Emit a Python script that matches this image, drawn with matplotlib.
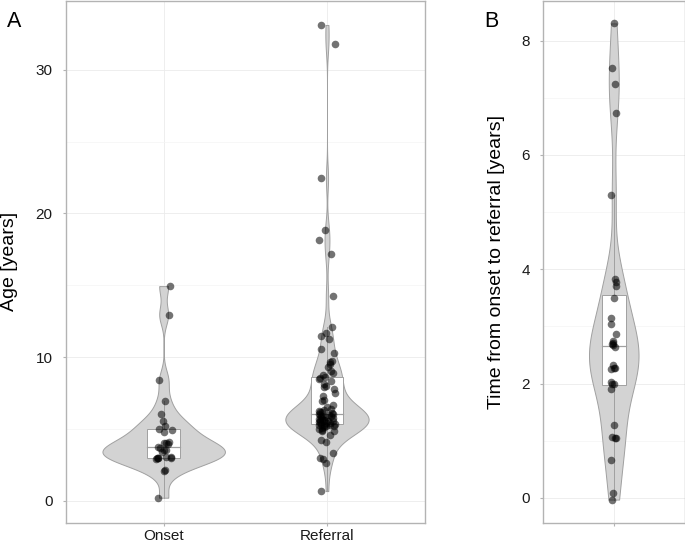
import numpy as np
import matplotlib.pyplot as plt
from matplotlib.patches import Rectangle
from matplotlib.ticker import MultipleLocator

plt.rcParams["font.family"] = ["Liberation Sans", "DejaVu Sans"]

# values (years)
group_names = ["Onset", "Referral"]
onset_age = [0.21, 2.05, 2.16, 2.92, 2.95, 2.95, 2.96, 2.96, 3.03, 3.05, 3.42, 3.5,
             3.54, 3.65, 3.73, 3.93, 4.0, 4.04, 4.11, 4.75, 4.95, 4.98, 5.21, 5.55,
             6.06, 6.93, 8.4, 12.94, 14.94]
referral_age = [0.67, 2.63, 2.87, 2.98, 3.33, 4.07, 4.25, 4.6, 4.83, 4.85, 4.95, 5.02,
                5.08, 5.12, 5.18, 5.22, 5.25, 5.28, 5.3, 5.32, 5.34,
                5.38, 5.42, 5.45, 5.5, 5.52, 5.55, 5.6, 5.62, 5.65, 5.7, 5.72, 5.75,
                5.8, 5.85, 5.88, 5.92, 5.96, 6.0, 6.04, 6.07,
                6.1, 6.15, 6.2, 6.25, 6.3, 6.38, 6.5, 6.68, 6.91, 7.03, 7.26, 7.5,
                7.77, 7.9, 8.0, 8.15, 8.3, 8.45, 8.53, 8.6,
                8.76, 8.88, 9.04, 9.34, 9.5, 9.69, 9.76, 10.31, 10.57, 11.26, 11.47,
                11.7, 12.12, 14.27, 17.15, 18.14, 18.88, 22.44, 31.78, 33.12]
time_to_referral = [-0.03, 0.08, 0.67, 1.04, 1.05, 1.06, 1.28, 1.9, 1.99, 2.0, 2.02,
                    2.26, 2.27, 2.28, 2.32, 2.64, 2.67, 2.7, 2.71, 2.75, 2.87, 3.05,
                    3.14, 3.5, 3.7, 3.77, 3.83, 5.3, 6.73, 7.24, 7.52, 8.3]

VIOLIN_FILL = "#d3d3d3"
EDGE = "#a0a0a0"
BORDER = "#b3b3b3"
GRID_MAJOR = "#ebebeb"
GRID_MINOR = "#f4f4f4"


def kde_nrd0(values, n_grid=512):
    v = np.asarray(values, dtype=float)
    n = len(v)
    q75, q25 = np.percentile(v, [75, 25])
    bw = 0.9 * min(v.std(ddof=1), (q75 - q25) / 1.34) * n ** -0.2
    grid = np.linspace(v.min(), v.max(), n_grid)
    z = (grid[:, None] - v[None, :]) / bw
    dens = np.exp(-0.5 * z ** 2).sum(axis=1) / (n * bw * np.sqrt(2 * np.pi))
    return grid, dens


def draw_group(ax, pos, values, max_half, jitter, rng):
    grid, dens = kde_nrd0(values)
    half = dens / dens.max() * max_half
    ax.fill_betweenx(grid, pos - half, pos + half, facecolor=VIOLIN_FILL,
                     edgecolor=EDGE, linewidth=0.7, zorder=2)

    v = np.asarray(values, dtype=float)
    q1, med, q3 = np.percentile(v, [25, 50, 75])
    iqr = q3 - q1
    lo = v[v >= q1 - 1.5 * iqr].min()
    hi = v[v <= q3 + 1.5 * iqr].max()
    ax.plot([pos, pos], [lo, q1], color=EDGE, lw=0.7, zorder=3)
    ax.plot([pos, pos], [q3, hi], color=EDGE, lw=0.7, zorder=3)
    bw = 0.2
    ax.add_patch(Rectangle((pos - bw / 2, q1), bw, q3 - q1, facecolor="white",
                           edgecolor=EDGE, linewidth=0.7, zorder=3))
    ax.plot([pos - bw / 2, pos + bw / 2], [med, med], color=EDGE, lw=0.9, zorder=3)

    xs = pos + rng.uniform(-jitter, jitter, len(v))
    ax.scatter(xs, v, s=30, color="black", alpha=0.55, linewidths=0, zorder=4)


def style_axes(ax, minor_step):
    ax.yaxis.set_minor_locator(MultipleLocator(minor_step))
    ax.grid(True, which="major", color=GRID_MAJOR, lw=0.6, zorder=0)
    ax.grid(True, which="minor", axis="y", color=GRID_MINOR, lw=0.5, zorder=0)
    ax.set_axisbelow(True)
    for sp in ax.spines.values():
        sp.set_color(BORDER)
        sp.set_linewidth(1.0)
    ax.tick_params(which="major", length=2.5, color=BORDER, labelsize=11,
                   labelcolor="#1a1a1a")
    ax.tick_params(axis="y", pad=7)
    ax.tick_params(axis="x", pad=2)
    ax.tick_params(which="minor", length=0)


rng = np.random.default_rng(11)
fig = plt.figure(figsize=(6.85, 5.43), dpi=100)

# panel A
ax_a = fig.add_axes([0.0959, 0.0374, 0.5245, 0.9616])
for i, (vals, max_half) in enumerate(zip((onset_age, referral_age), (0.375, 0.255))):
    draw_group(ax_a, i + 1, vals, max_half, 0.05, rng)
ax_a.set_xlim(0.4, 2.6)
ax_a.set_ylim(-1.53, 34.82)
ax_a.set_xticks([1, 2])
ax_a.set_xticklabels(group_names)
ax_a.set_yticks([0, 10, 20, 30])
ax_a.set_ylabel("Age [years]", fontsize=14)
ax_a.yaxis.set_label_coords(-0.133, 0.5)
style_axes(ax_a, 5)

# panel B
ax_b = fig.add_axes([0.7927, 0.0368, 0.2066, 0.9622])
draw_group(ax_b, 1, time_to_referral, 0.21, 0.025, rng)
ax_b.set_xlim(0.4, 1.6)
ax_b.set_ylim(-0.44, 8.70)
ax_b.set_xticks([1])
ax_b.set_xticklabels([""])
ax_b.set_yticks([0, 2, 4, 6, 8])
ax_b.set_ylabel("Time from onset to referral [years]", fontsize=14)
ax_b.yaxis.set_label_coords(-0.27, 0.5)
style_axes(ax_b, 1)

fig.text(7 / 685, 1 - 27 / 543, "A", fontsize=15.5, color="black")
fig.text(484 / 685, 1 - 27 / 543, "B", fontsize=15.5, color="black")

fig.savefig("out.png", dpi=100)
